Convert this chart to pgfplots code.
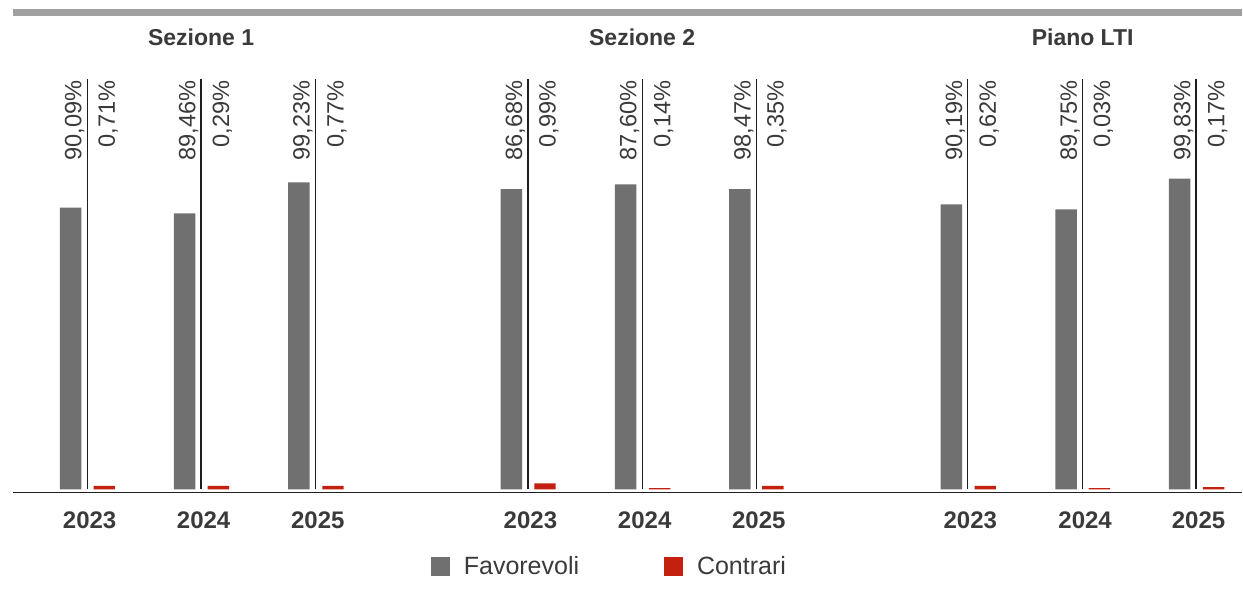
\documentclass[border=0pt]{standalone}
\usepackage{fontspec}
\setmainfont{Liberation Sans}
\usepackage{pgfplots}
\usepackage{pgfplotstable}
\pgfplotsset{compat=1.18}
\definecolor{favc}{RGB}{112,112,112}
\definecolor{conc}{RGB}{196,32,16}
\definecolor{txt}{RGB}{58,58,58}
\definecolor{topbar}{RGB}{160,160,160}
\definecolor{sepc}{RGB}{30,30,30}
\tikzset{vlab/.style={rotate=90, anchor=base east, inner sep=0pt, text=txt,
    font=\fontsize{11.8}{14}\selectfont}}

% x in pixel units of the reference, y in percent (as drawn)
\pgfplotstableread{
x y
70.7 90.5
184.7 88.6
299.0 98.6
511.7 96.4
626.0 97.9
740.2 96.4
951.8 91.5
1066.7 89.9
1180.2 99.8
}\favtab
\pgfplotstableread{
x y
104.3 1.16
218.5 1.16
333.2 1.16
545.3 1.93
660.0 0.42
773.2 1.16
985.8 1.16
1100.0 0.42
1214.2 0.74
}\contab
\pgfplotstableread{
x y
87.2 131.7
201.2 131.7
315.5 131.7
528.2 131.7
642.5 131.7
756.7 131.7
968.3 131.7
1083.2 131.7
1196.7 131.7
}\septab

\begin{document}
\begin{tikzpicture}
\begin{axis}[
  width=621.5pt, height=297.5pt, scale only axis,
  xmin=0, xmax=1243, ymin=-33.88, ymax=157.08,
  axis line style={draw=none},
  ytick=\empty,
  xtick={89.7,203.7,318,530.7,645,759.2,970.8,1085.7,1199.2},
  xticklabels={2023,2024,2025,2023,2024,2025,2023,2024,2025},
  major tick length=0pt,
  xticklabel style={font=\fontsize{12}{14}\selectfont\bfseries, text=txt, anchor=base, yshift=33.35pt},
  clip=false,
  legend columns=2,
  legend style={at={(axis cs:430.7,-24.75)}, anchor=west, draw=none, fill=none,
    inner sep=0pt, font=\fontsize{12.5}{15}\selectfont, text=txt,
    /tikz/every odd column/.style={column sep=5pt},
    /tikz/every even column/.style={column sep=40.5pt}},
  legend cell align=left,
]
\addplot[ybar, bar width=10.7pt, bar shift=0pt, fill=favc, draw=none,
  legend image code/.code={\fill[favc] (0pt,-4.75pt) rectangle (9.5pt,4.75pt);}]
  table[x=x, y=y] {\favtab};
\addlegendentry{Favorevoli}
\addplot[ybar, bar width=10.7pt, bar shift=0pt, fill=conc, draw=none,
  legend image code/.code={\fill[conc] (0pt,-4.75pt) rectangle (9.5pt,4.75pt);}]
  table[x=x, y=y] {\contab};
\addlegendentry{Contrari}
\addplot[ycomb, sepc, line width=0.6pt, mark=none, forget plot]
  table[x=x, y=y] {\septab};

% top bar and baseline
\fill[topbar] (axis cs:13,151.9) rectangle (axis cs:1243,154.2);
\draw[sepc, line width=0.65pt] (axis cs:13.3,-1.09) -- (axis cs:1243,-1.09);

% group titles
\node[anchor=base, font=\fontsize{11.5}{14}\selectfont\bfseries, text=txt] at (axis cs:201.2,142.6) {Sezione 1};
\node[anchor=base, font=\fontsize{11.5}{14}\selectfont\bfseries, text=txt] at (axis cs:642.5,142.6) {Sezione 2};
\node[anchor=base, font=\fontsize{11.5}{14}\selectfont\bfseries, text=txt] at (axis cs:1083.2,142.6) {Piano LTI};

% value labels
\node[vlab] at (axis cs:81.4,131.4) {90,09\%};
\node[vlab] at (axis cs:195.4,131.4) {89,46\%};
\node[vlab] at (axis cs:309.7,131.4) {99,23\%};
\node[vlab] at (axis cs:522.4,131.4) {86,68\%};
\node[vlab] at (axis cs:636.7,131.4) {87,60\%};
\node[vlab] at (axis cs:750.9,131.4) {98,47\%};
\node[vlab] at (axis cs:962.5,131.4) {90,19\%};
\node[vlab] at (axis cs:1077.4,131.4) {89,75\%};
\node[vlab] at (axis cs:1190.9,131.4) {99,83\%};
\node[vlab] at (axis cs:115.0,131.4) {0,71\%};
\node[vlab] at (axis cs:229.2,131.4) {0,29\%};
\node[vlab] at (axis cs:343.9,131.4) {0,77\%};
\node[vlab] at (axis cs:556.0,131.4) {0,99\%};
\node[vlab] at (axis cs:670.7,131.4) {0,14\%};
\node[vlab] at (axis cs:783.9,131.4) {0,35\%};
\node[vlab] at (axis cs:996.5,131.4) {0,62\%};
\node[vlab] at (axis cs:1110.7,131.4) {0,03\%};
\node[vlab] at (axis cs:1224.9,131.4) {0,17\%};
\end{axis}
\end{tikzpicture}
\end{document}
